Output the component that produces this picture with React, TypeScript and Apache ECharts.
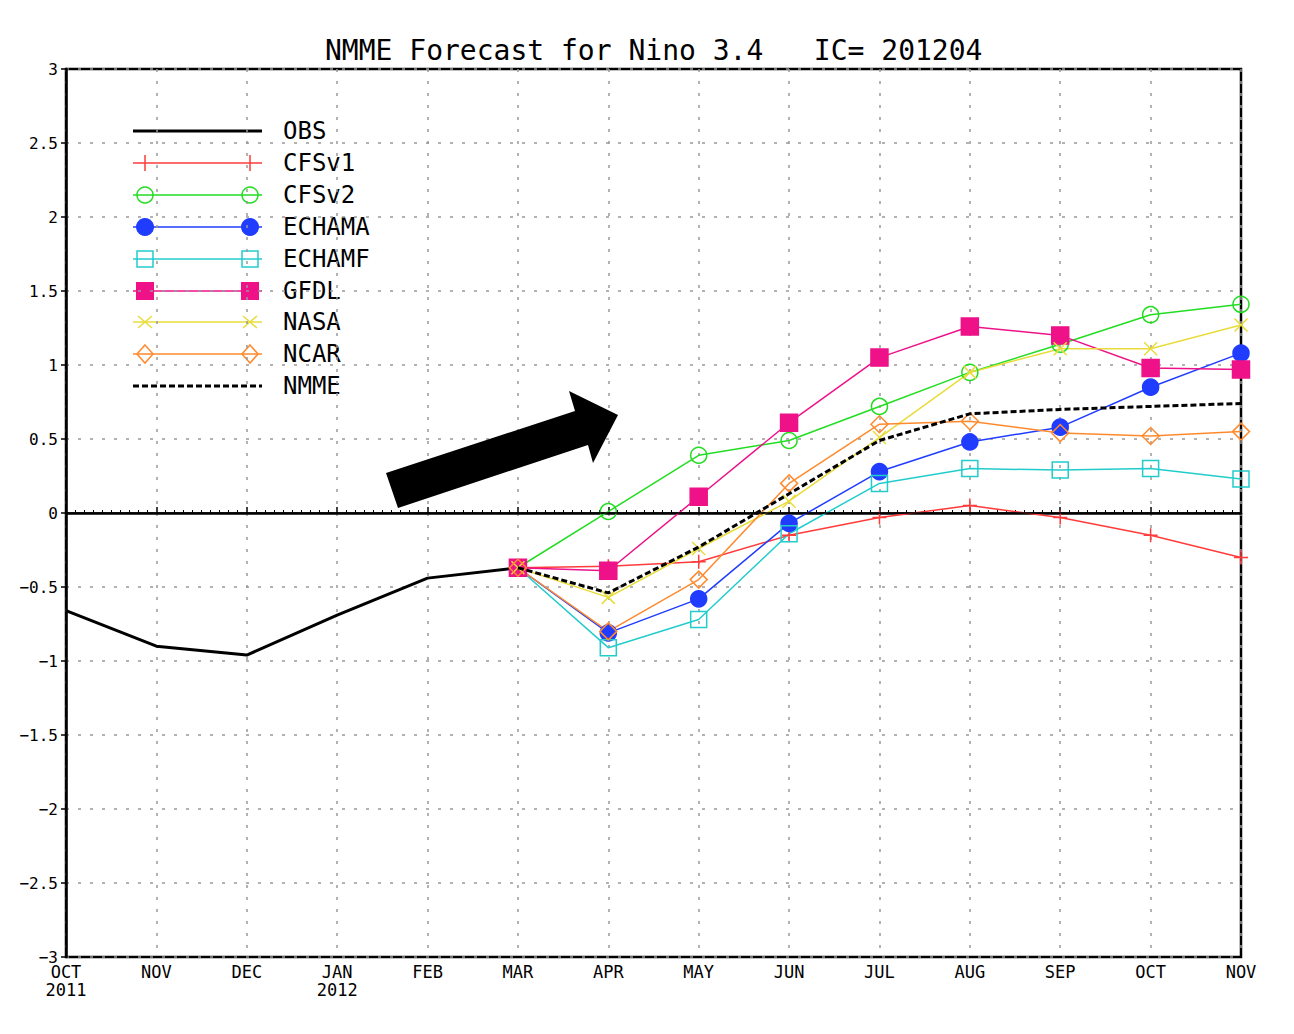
import React, { useEffect, useRef } from "react";
import * as echarts from "echarts";

const monthLabels = ["OCT\n2011", "NOV", "DEC", "JAN\n2012", "FEB", "MAR", "APR", "MAY", "JUN", "JUL", "AUG", "SEP", "OCT", "NOV"];
const obsValues = [-0.66, -0.9, -0.96, -0.69, -0.44, -0.37];
const forecastStart = 5; // MAR
const cfsv1 = [-0.37, -0.36, -0.33, -0.15, -0.03, 0.05, -0.03, -0.15, -0.3];
const cfsv2 = [-0.37, 0.01, 0.39, 0.49, 0.72, 0.95, 1.14, 1.34, 1.41];
const echama = [-0.37, -0.81, -0.58, -0.07, 0.28, 0.48, 0.58, 0.85, 1.08];
const echamf = [-0.37, -0.91, -0.72, -0.14, 0.2, 0.3, 0.29, 0.3, 0.23];
const gfdl = [-0.37, -0.39, 0.11, 0.61, 1.05, 1.26, 1.2, 0.98, 0.97];
const nasa = [-0.37, -0.57, -0.24, 0.08, 0.51, 0.95, 1.11, 1.11, 1.27];
const ncar = [-0.37, -0.8, -0.45, 0.2, 0.6, 0.62, 0.54, 0.52, 0.55];
const nmme = [-0.37, -0.54, -0.23, 0.13, 0.49, 0.67, 0.7, 0.72, 0.74];

const seriesNames = ["OBS", "CFSv1", "CFSv2", "ECHAMA", "ECHAMF", "GFDL", "NASA", "NCAR", "NMME"];
const seriesColors = ["#000000", "#ff3b3b", "#22dd22", "#1f3cff", "#22cccc", "#ee1188", "#e8dc3a", "#ff8a2e", "#000000"];
const seriesMarks = ["none", "plus", "ocircle", "fcircle", "orect", "frect", "xmark", "diamond", "none"];

const MONO = "'DejaVu Sans Mono', 'Liberation Mono', monospace";

function chartSymbol(kind: string) {
  switch (kind) {
    case "plus": return { symbol: "path://M0,-10L0,10M-10,0L10,0", size: 14, filled: false };
    case "ocircle": return { symbol: "circle", size: 16, filled: false };
    case "fcircle": return { symbol: "circle", size: 16, filled: true };
    case "orect": return { symbol: "rect", size: 16, filled: false };
    case "frect": return { symbol: "rect", size: 17, filled: true };
    case "xmark": return { symbol: "path://M-10,-10L10,10M-10,10L10,-10", size: 13, filled: false };
    case "diamond": return { symbol: "diamond", size: 17, filled: false };
    default: return { symbol: "none", size: 0, filled: false };
  }
}

function legendSymbol(kind: string, x: number, y: number, color: string): any[] {
  const s = { stroke: color, lineWidth: 1.5, fill: "none" };
  switch (kind) {
    case "plus":
      return [{ type: "line", shape: { x1: x, y1: y - 8, x2: x, y2: y + 8 }, style: s }];
    case "ocircle":
      return [{ type: "circle", shape: { cx: x, cy: y, r: 8 }, style: s }];
    case "fcircle":
      return [{ type: "circle", shape: { cx: x, cy: y, r: 9 }, style: { fill: color } }];
    case "orect":
      return [{ type: "rect", shape: { x: x - 8, y: y - 8, width: 16, height: 16 }, style: s }];
    case "frect":
      return [{ type: "rect", shape: { x: x - 9, y: y - 9, width: 18, height: 18 }, style: { fill: color } }];
    case "xmark":
      return [
        { type: "line", shape: { x1: x - 7, y1: y - 6, x2: x + 7, y2: y + 6 }, style: s },
        { type: "line", shape: { x1: x - 7, y1: y + 6, x2: x + 7, y2: y - 6 }, style: s },
      ];
    case "diamond":
      return [{ type: "polygon", shape: { points: [[x, y - 9], [x + 8, y], [x, y + 9], [x - 8, y]] }, style: s }];
    default:
      return [];
  }
}

export default function App() {
  const ref = useRef<HTMLDivElement>(null);
  useEffect(() => {
    document.body.style.margin = "0";
    const chart = echarts.init(ref.current!, null, { renderer: "svg" });

    const forecastArrays = [cfsv1, cfsv2, echama, echamf, gfdl, nasa, ncar, nmme];
    const series: any[] = [];

    series.push({
      name: "OBS",
      type: "line",
      data: obsValues.map((v, i) => [i, v]),
      symbol: "none",
      lineStyle: { color: "#000", width: 3 },
      z: 3,
      markLine: {
        silent: true,
        symbol: "none",
        label: { show: false },
        lineStyle: { color: "#000", width: 1.5, type: "solid" },
        data: [{ yAxis: 0 }],
      },
    });

    forecastArrays.forEach((arr, k) => {
      const idx = k + 1;
      const name = seriesNames[idx];
      const color = seriesColors[idx];
      const sym = chartSymbol(seriesMarks[idx]);
      const isNmme = name === "NMME";
      series.push({
        name,
        type: "line",
        data: arr.map((v, i) => [forecastStart + i, v]),
        symbol: sym.symbol,
        symbolSize: sym.size,
        showSymbol: !isNmme,
        clip: true,
        lineStyle: isNmme
          ? { color: "#000", width: 3, type: [6, 3] }
          : { color, width: 1.5 },
        itemStyle: {
          color: sym.filled ? color : "rgba(0,0,0,0)",
          borderColor: color,
          borderWidth: 1.5,
        },
        z: isNmme ? 4 : 3,
      });
    });

    const graphics: any[] = [];
    const legendTop = 131;
    const legendStep = 31.9;
    seriesNames.forEach((name, i) => {
      const y = Math.round(legendTop + i * legendStep);
      const color = seriesColors[i];
      graphics.push({
        type: "line",
        shape: { x1: 133, y1: y, x2: 262, y2: y },
        style: {
          stroke: color,
          lineWidth: name === "OBS" || name === "NMME" ? 3 : 1.5,
          lineDash: name === "NMME" ? [6, 3] : null,
        },
      });
      graphics.push(...legendSymbol(seriesMarks[i], 145, y, color));
      graphics.push(...legendSymbol(seriesMarks[i], 250, y, color));
      graphics.push({
        type: "text",
        x: 283,
        y,
        style: { text: name, fill: "#000", font: `24px ${MONO}`, textVerticalAlign: "middle", textAlign: "left" },
      });
    });

    // annotation arrow
    graphics.push({
      type: "polygon",
      shape: { points: [[386, 473], [575, 411], [569, 391], [618, 415], [593, 463], [588, 445], [398, 508]] },
      style: { fill: "#000" },
      z: 10,
    });

    chart.setOption({
      animation: false,
      backgroundColor: "#fff",
      title: {
        text: "NMME Forecast for Nino 3.4   IC= 201204",
        left: 320,
        top: 31,
        textStyle: { fontFamily: MONO, fontSize: 28, fontWeight: "normal", color: "#000" },
      },
      grid: {
        left: 66,
        right: 53,
        top: 69,
        bottom: 77,
        show: true,
        borderColor: "#000",
        borderWidth: 2.5,
        backgroundColor: "transparent",
      },
      xAxis: {
        type: "value",
        min: 0,
        max: 13,
        interval: 1,
        axisLine: { show: true, lineStyle: { color: "#000", width: 2.5 } },
        axisTick: { show: true, inside: true, length: 6, lineStyle: { color: "#000", width: 1.5 } },
        minorTick: { show: true, splitNumber: 10, length: 3, lineStyle: { color: "#000", width: 1 } },
        axisLabel: {
          formatter: (v: number) => monthLabels[Math.round(v)] ?? "",
          fontFamily: MONO,
          fontSize: 17,
          lineHeight: 18,
          color: "#000",
          margin: 6,
        },
        splitLine: { show: true, lineStyle: { color: "#999", width: 1.5, type: [3, 9] } },
      },
      yAxis: {
        type: "value",
        min: -3,
        max: 3,
        interval: 0.5,
        axisLine: { show: true, lineStyle: { color: "#000", width: 2.5 } },
        axisTick: { show: true, inside: false, length: 5, lineStyle: { color: "#000", width: 1.5 } },
        axisLabel: {
          formatter: (v: number) => (v < 0 ? "\u2212" + String(Math.abs(v)) : String(v)),
          fontFamily: MONO,
          fontSize: 16,
          color: "#000",
          margin: 8,
        },
        splitLine: { show: true, lineStyle: { color: "#999", width: 1.5, type: [3, 9] } },
      },
      series,
      graphic: graphics,
    });

    return () => chart.dispose();
  }, []);

  return <div ref={ref} style={{ width: 1294, height: 1034 }} />;
}
